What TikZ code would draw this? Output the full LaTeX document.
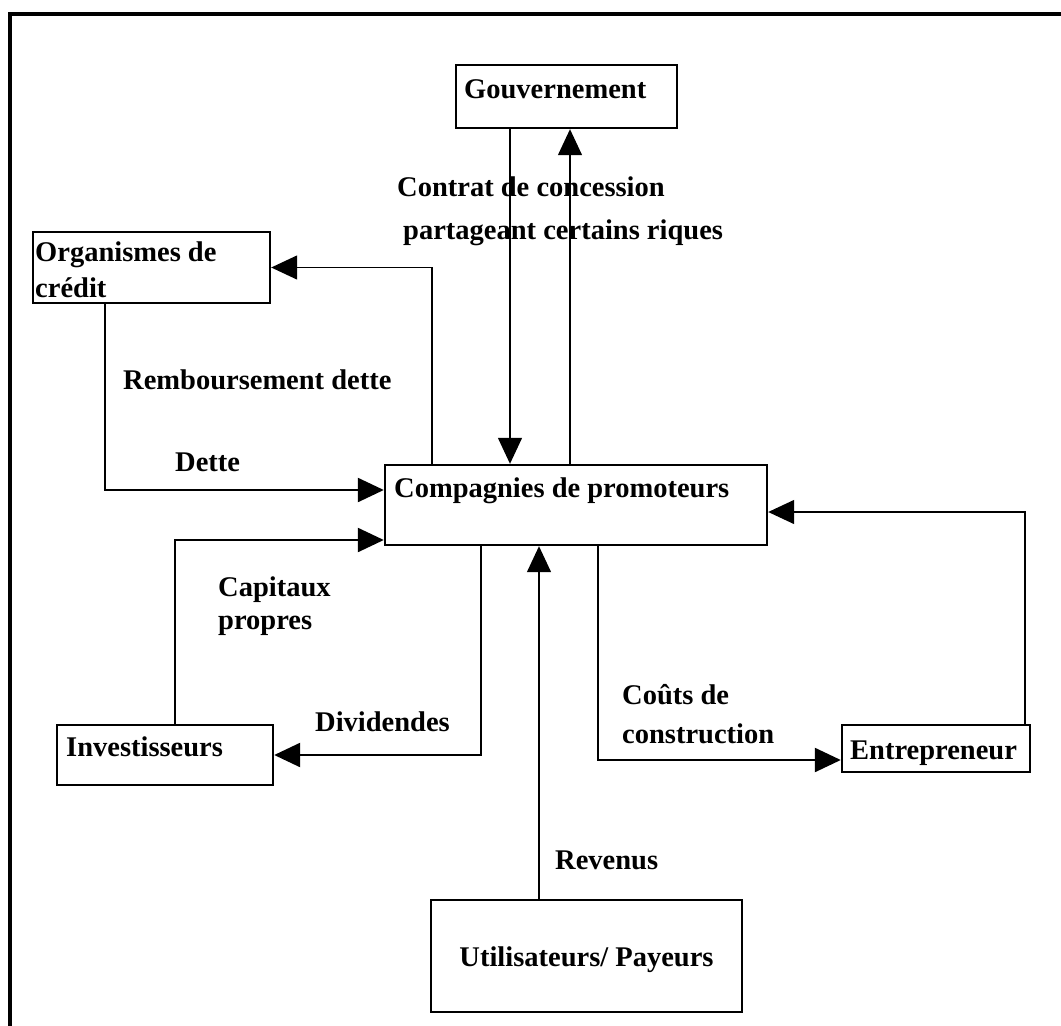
\documentclass[tikz,border=0pt]{standalone}
\usepackage{fontspec}
\setmainfont{Liberation Serif}
\usetikzlibrary{arrows.meta}
\begin{document}
\begin{tikzpicture}[x=1pt,y=-1pt,
  box/.style={draw,line width=2.4pt,inner sep=0pt,rectangle},
  txt/.style={anchor=base west,inner sep=0pt,font=\fontsize{28.5}{34}\selectfont\bfseries},
  conn/.style={line width=1.4pt,-{Triangle[length=26pt,width=24pt]}},
  connb/.style={line width=2.4pt,-{Triangle[length=26pt,width=24pt]}}]
\useasboundingbox (0,0) rectangle (1061,1026);
\draw[line width=4pt] (1061,14) -- (10,14) -- (10,1026);
% boxes
\node[box,minimum width=221pt,minimum height=63pt] (gov) at (566.5,96.5) {};
\node[box,minimum width=237pt,minimum height=71pt] (org) at (151.5,267.5) {};
\node[box,minimum width=382pt,minimum height=80pt] (comp) at (576,505) {};
\node[box,minimum width=216pt,minimum height=60pt] (inv) at (165,755) {};
\node[box,minimum width=188pt,minimum height=47pt] (ent) at (936,748.5) {};
\node[box,minimum width=311pt,minimum height=112pt] (uti) at (586.5,956) {};
% box texts
\node[txt] (govt) at (464,98) {Gouvernement};
\node[txt] (orgt1) at (35,261) {Organismes de};
\node[txt] (orgt2) at (35,297) {crédit};
\node[txt] (compt) at (394,497) {Compagnies de promoteurs};
\node[txt] (invt) at (66,756) {Investisseurs};
\node[txt] (entt) at (850,759) {Entrepreneur};
\node[txt,anchor=base] (utit) at (586.5,966) {Utilisateurs/ Payeurs};
% connector labels
\node[txt] (l1) at (397,196) {Contrat de concession};
\node[txt] (l2) at (403,239) {partageant certains riques};
\node[txt] (l3) at (123,389) {Remboursement dette};
\node[txt] (l4) at (175,471) {Dette};
\node[txt] (l5) at (218,596) {Capitaux};
\node[txt] (l6) at (218,629) {propres};
\node[txt] (l7) at (315,731) {Dividendes};
\node[txt] (l8) at (622,704) {Coûts de};
\node[txt] (l9) at (622,743) {construction};
\node[txt] (l10) at (555,869) {Revenus};
% bend coordinates
\coordinate (cA) at (510,0);
\coordinate (cB) at (570,0);
\coordinate (cC) at (432,0);
\coordinate (cD) at (105,490);
\coordinate (cE) at (175,540);
\coordinate (cF) at (481,0);
\coordinate (cG) at (598,760);
\coordinate (cH) at (1025,512);
\coordinate (cI) at (539,0);
% connectors
\draw[conn] (gov.south -| cA) -- (comp.north -| cA);
\draw[conn] (comp.north -| cB) -- (gov.south -| cB);
\draw[conn] (comp.north -| cC) |- (org.east);
\draw[connb] (org.south -| cD) -- (cD) -- (comp.west |- cD);
\draw[connb] (inv.north -| cE) -- (cE) -- (comp.west |- cE);
\draw[connb] (comp.south -| cF) |- (inv.east);
\draw[connb] (comp.south -| cG) -- (cG) -- (ent.west |- cG);
\draw[conn] (ent.north -| cH) -- (cH) -- (comp.east |- cH);
\draw[conn] (uti.north -| cI) -- (comp.south -| cI);
\end{tikzpicture}
\end{document}
